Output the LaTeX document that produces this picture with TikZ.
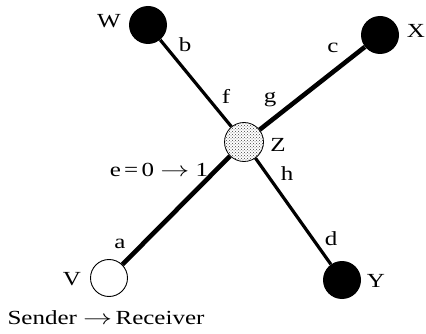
\documentclass[tikz,border=0pt]{standalone}
\usepackage{fontspec}
\setmainfont{Liberation Serif}[FakeStretch=1.25]
\usetikzlibrary{patterns}
\newcommand\longarr{\scalebox{1.4}[1]{$\rightarrow$}}
\begin{document}
\begin{tikzpicture}[x=1pt,y=-1pt,
  blackdot/.style={circle,fill=black,inner sep=0pt,minimum size=38pt},
  hub/.style={circle,draw=black,line width=0.8pt,pattern=crosshatch dots,pattern color=black!75,inner sep=0pt,minimum size=39pt},
  sender/.style={circle,draw=black,line width=0.9pt,fill=white,inner sep=0pt,minimum size=37pt},
  lbl/.style={font=\fontsize{20}{22}\selectfont,inner sep=0pt},
  thickline/.style={line width=4.6pt},
  midline/.style={line width=3.2pt}]
\useasboundingbox (0,0) rectangle (426,334);
% nodes
\node[blackdot] (W) at (148,25) {};
\node[blackdot] (X) at (380,35) {};
\node[hub] (Z) at (244,142) {};
\node[sender] (V) at (109,278) {};
\node[blackdot] (Y) at (342,280) {};
% connectors
\draw[thickline] (V) -- (Z);
\draw[thickline] (Z) -- (X);
\draw[midline] (W) -- (Z);
\draw[midline] (Z) -- (Y);
% labels
\node[lbl] (lW) at (109,21) {W};
\node[lbl] (lb) at (185,45) {b};
\node[lbl] (lX) at (416,31) {X};
\node[lbl] (lc) at (333,48) {c};
\node[lbl] (lf) at (226,96) {f};
\node[lbl] (lg) at (270,100) {g};
\node[lbl] (lZ) at (278,145) {Z};
\node[lbl] (le) at (159,170) {e\,=\,0 \longarr\ 1};
\node[lbl] (lh) at (287,174) {h};
\node[lbl] (ld) at (331,239) {d};
\node[lbl] (lY) at (376,281) {Y};
\node[lbl] (la) at (120,244) {a};
\node[lbl] (lV) at (72,279) {V};
\node[lbl] (ls) at (106,318) {Sender \longarr\,Receiver};
\end{tikzpicture}
\end{document}
